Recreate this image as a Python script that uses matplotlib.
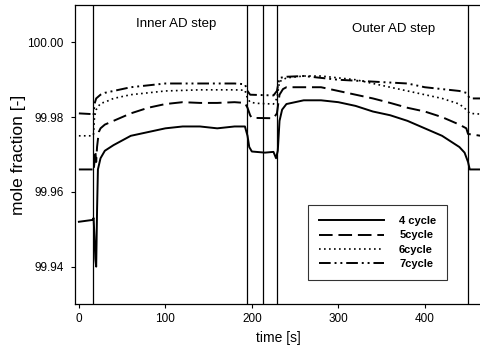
import matplotlib
matplotlib.use("Agg")
import matplotlib.pyplot as plt

plt.rcParams['font.family'] = ['Liberation Sans', 'DejaVu Sans']

# 4 cycle (solid)
t_4 = [0, 16, 17, 18, 19, 20, 21, 22, 25, 30, 40, 60, 80, 100, 120, 140, 160, 180, 192, 195, 197, 200,
       215, 225, 228, 230, 232, 235, 240, 260, 280, 300, 320, 340, 360, 380, 400, 420, 440, 446, 450, 452, 465]
y_4 = [99.952, 99.9525, 99.953, 99.948, 99.942, 99.940, 99.955, 99.966, 99.969, 99.971, 99.9725, 99.975,
       99.976, 99.977, 99.9775, 99.9775, 99.977, 99.9775, 99.9775, 99.975, 99.972, 99.9708,
       99.9705, 99.9707, 99.969, 99.971, 99.979, 99.982, 99.9835, 99.9845, 99.9845, 99.984, 99.983,
       99.9815, 99.9805, 99.979, 99.977, 99.975, 99.972, 99.9705, 99.968, 99.966, 99.966]

# 5cycle (dashed)
t_5 = [0, 16, 17, 18, 19, 20, 21, 23, 25, 30, 40, 60, 80, 100, 120, 140, 160, 180, 192, 195, 198, 200,
       225, 229, 232, 236, 240, 260, 280, 300, 320, 340, 360, 380, 400, 420, 440, 448, 450, 465]
y_5 = [99.966, 99.966, 99.9655, 99.968, 99.971, 99.968, 99.972, 99.976, 99.977, 99.978, 99.979, 99.981,
       99.9825, 99.9835, 99.984, 99.9838, 99.9838, 99.984, 99.9838, 99.9825, 99.9805, 99.9798,
       99.9797, 99.981, 99.986, 99.9875, 99.988, 99.988, 99.988, 99.987, 99.986, 99.985, 99.9838,
       99.9825, 99.9815, 99.980, 99.978, 99.977, 99.9755, 99.975]

# 6cycle (dotted)
t_6 = [0, 16, 17, 18, 20, 25, 30, 40, 60, 80, 100, 140, 180, 192, 195, 198, 205, 225, 229, 232, 240,
       260, 280, 300, 320, 340, 360, 380, 400, 420, 440, 448, 452, 465]
y_6 = [99.975, 99.975, 99.9755, 99.980, 99.982, 99.9837, 99.984, 99.985, 99.986, 99.9865, 99.987,
       99.9873, 99.9873, 99.9872, 99.985, 99.984, 99.9837, 99.9835, 99.985, 99.9895, 99.9905,
       99.991, 99.991, 99.9905, 99.990, 99.989, 99.988, 99.987, 99.986, 99.985, 99.9835, 99.982,
       99.981, 99.9808]

# 7cycle (dash-dot-dot)
t_7 = [0, 16, 17, 18, 20, 25, 30, 40, 60, 80, 100, 140, 180, 192, 195, 198, 225, 229, 232, 240, 260,
       280, 300, 340, 380, 400, 420, 440, 448, 452, 465]
y_7 = [99.981, 99.9808, 99.9805, 99.9835, 99.985, 99.986, 99.9865, 99.987, 99.988, 99.9885, 99.989,
       99.989, 99.989, 99.9888, 99.987, 99.986, 99.9858, 99.987, 99.9905, 99.9908, 99.991,
       99.9905, 99.990, 99.9895, 99.989, 99.988, 99.9875, 99.987, 99.9865, 99.985, 99.985]

step_edges = [16, 194, 213, 229.5, 450]
x_ticks = [0, 100, 200, 300, 400]
y_ticks = [99.94, 99.96, 99.98, 100.00]

fig = plt.figure(figsize=(4.81, 3.53), dpi=100)
ax = fig.add_axes([75 / 481, 1 - 304 / 353, 406 / 481, 299 / 353])

for e in step_edges:
    ax.axvline(e, color='black', lw=0.9)

ax.plot(t_4, y_4, color='black', lw=1.4, label='4 cycle')
ax.plot(t_5, y_5, color='black', lw=1.4, dashes=(7, 3), label='5cycle')
ax.plot(t_6, y_6, color='black', lw=1.2, dashes=(1, 2), label='6cycle')
ax.plot(t_7, y_7, color='black', lw=1.4, dashes=(6, 2, 1, 2, 1, 2), label='7cycle')

ax.set_xlim(-4.5, 465)
ax.set_ylim(99.930, 100.010)
ax.set_xticks(x_ticks)
ax.set_yticks(y_ticks)
ax.set_yticklabels([f"{v:.2f}" for v in y_ticks])
ax.tick_params(labelsize=8.5, direction='out', length=3, width=0.8)
ax.tick_params(axis='y', pad=5)
ax.spines['right'].set_visible(False)
for s in ['left', 'bottom', 'top']:
    ax.spines[s].set_linewidth(0.9)

ax.set_xlabel('time [s]', fontsize=10)
ax.set_ylabel('mole fraction [-]', fontsize=12.5, labelpad=1)

ax.text(0.25, 0.935, 'Inner AD step', transform=ax.transAxes, ha='center', va='center', fontsize=9.5)
ax.text(0.785, 0.92, 'Outer AD step', transform=ax.transAxes, ha='center', va='center', fontsize=9.5)

leg = ax.legend(loc='lower left', bbox_to_anchor=((308 - 75) / 406, (304 - 280) / 299),
                borderaxespad=0, frameon=True, fancybox=False, edgecolor='black',
                handlelength=5.8, prop={'size': 8, 'weight': 'bold'}, borderpad=1.0,
                labelspacing=0.38, handletextpad=1.4)
leg.get_frame().set_linewidth(0.8)

fig.savefig('out.png', dpi=100)
